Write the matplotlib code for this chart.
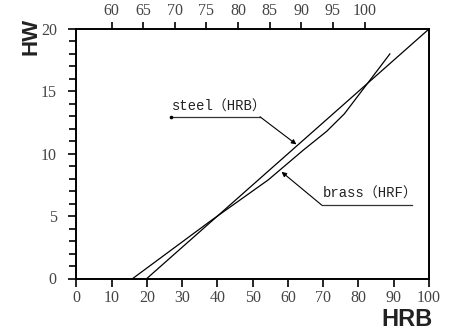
import matplotlib
matplotlib.use("Agg")
import matplotlib.pyplot as plt
from matplotlib.ticker import MultipleLocator

# Data
steel_hrb = [20, 100]
steel_hw = [0, 20]
brass_hrb = [16, 38, 54.4, 64.4, 71, 76, 83, 88.9]
brass_hw = [0, 4.6, 7.9, 10.3, 11.8, 13.2, 15.8, 18.0]
bottom_ticks = [0, 10, 20, 30, 40, 50, 60, 70, 80, 90, 100]
top_ticks = [60, 65, 70, 75, 80, 85, 90, 95, 100]
y_ticks = [0, 5, 10, 15, 20]
top_lim = (54.42, 110.2)

W, H = 449, 335
fig = plt.figure(figsize=(W / 100, H / 100), dpi=100)
ax = fig.add_axes([76.3 / W, 1 - 278.5 / H, (429 - 76.3) / W, (278.5 - 29) / H])

tick_font = dict(family="Liberation Serif", size=11.5, color="#444444")
ann_font = ["Liberation Mono", "Noto Sans CJK SC"]

ax.plot(steel_hrb, steel_hw, color="black", lw=0.9)
ax.plot(brass_hrb, brass_hw, color="black", lw=0.9)

ax.set_xlim(0, 100)
ax.set_ylim(0, 20)
ax.set_xticks(bottom_ticks)
ax.set_yticks(y_ticks)
ax.yaxis.set_minor_locator(MultipleLocator(1))
for s in ax.spines.values():
    s.set_linewidth(1.4)
ax.tick_params(axis="x", which="major", length=5.5, width=1.2, direction="out", pad=3)
ax.tick_params(axis="y", which="major", length=6, width=1.2, direction="out", pad=8)
ax.tick_params(axis="y", which="minor", length=5, width=1.2, direction="out")
for lab in ax.get_xticklabels() + ax.get_yticklabels():
    lab.set_fontfamily(tick_font["family"])
    lab.set_fontsize(tick_font["size"])
    lab.set_color(tick_font["color"])

top = ax.twiny()
top.set_xlim(*top_lim)
top.set_xticks(top_ticks)
top.tick_params(axis="x", which="major", length=5, width=1.2, direction="out", pad=2)
for s in top.spines.values():
    s.set_visible(False)
for lab in top.get_xticklabels():
    lab.set_fontfamily(tick_font["family"])
    lab.set_fontsize(tick_font["size"])
    lab.set_color(tick_font["color"])

# Axis titles
fig.text(31 / W, 1 - 36 / H, "HW", rotation=90, ha="center", va="center",
         family="Liberation Sans", fontsize=16, fontweight="bold", color="#222222")
fig.text(407 / W, 1 - 320 / H, "HRB", ha="center", va="center",
         family="Liberation Sans", fontsize=17, fontweight="bold", color="#222222")

# Annotations
ax.text(27.1, 13.25, "steel（HRB）", family=ann_font, fontsize=10, ha="left", va="bottom", color="#222222")
ax.plot([26.8, 52.1], [12.96, 12.96], color="#333333", lw=0.9)
ax.plot([26.8], [12.96], marker="o", ms=1.6, color="black")
ax.annotate("", xy=(62.4, 10.75), xytext=(52.1, 12.96),
            arrowprops=dict(arrowstyle="-|>", color="black", lw=0.8, mutation_scale=7, shrinkA=0, shrinkB=0))

ax.text(69.9, 6.2, "brass（HRF）", family=ann_font, fontsize=10, ha="left", va="bottom", color="#222222")
ax.plot([69.6, 95.1], [5.88, 5.88], color="#333333", lw=0.9)
ax.annotate("", xy=(58.2, 8.55), xytext=(69.6, 5.88),
            arrowprops=dict(arrowstyle="-|>", color="black", lw=0.8, mutation_scale=7, shrinkA=0, shrinkB=0))

fig.savefig("out.png", dpi=100)
